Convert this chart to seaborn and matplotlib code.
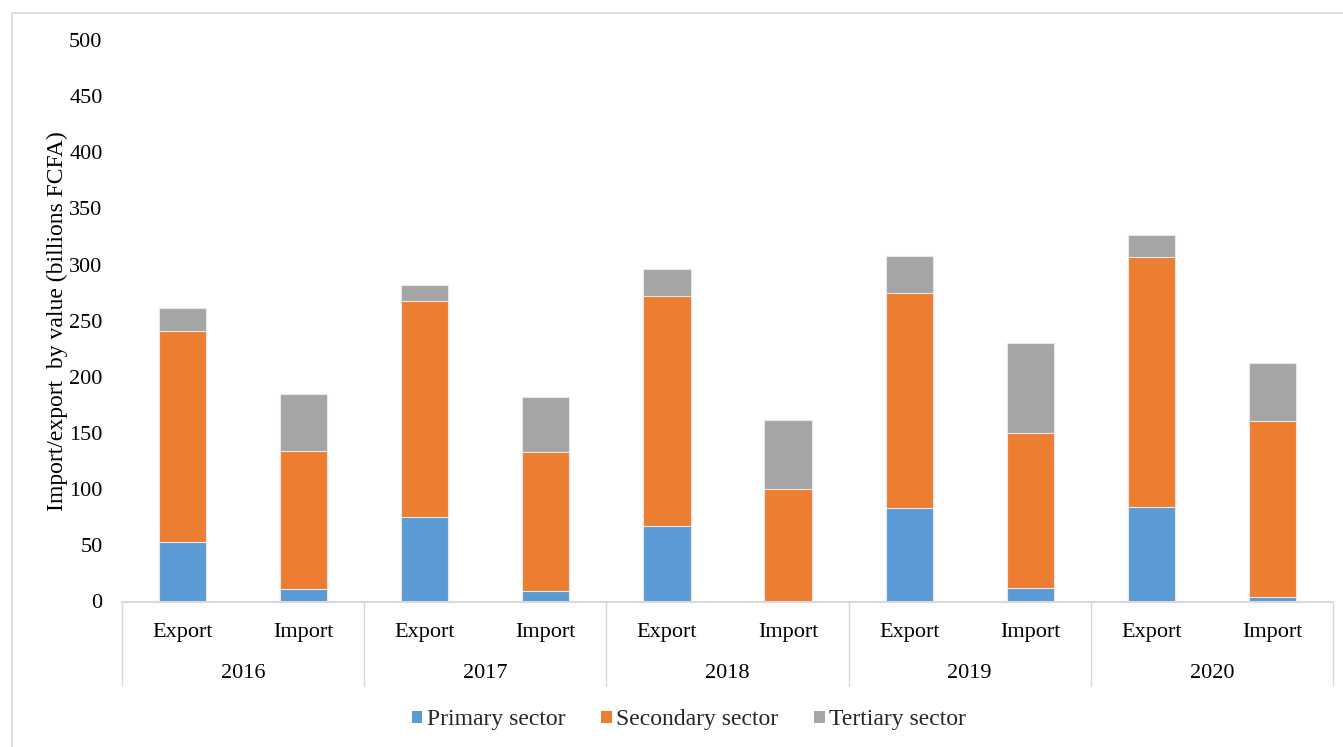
import matplotlib
matplotlib.use("Agg")
import matplotlib.pyplot as plt
from matplotlib.patches import Rectangle, Patch
from matplotlib.lines import Line2D
import seaborn as sns
import pandas as pd
import numpy as np

# Trade values by sector (billions FCFA)
years = ["2016", "2017", "2018", "2019", "2020"]
flows = ["Export", "Import"]
primary = [53, 11, 75, 9, 67, 0, 83, 12, 84, 4]
secondary = [188, 123, 193, 124, 205, 100, 192, 138, 223, 157]
tertiary = [20, 51, 14, 49, 24, 62, 33, 80, 19, 51]
sector_names = ["Primary sector", "Secondary sector", "Tertiary sector"]
sector_colors = ["#5B9BD5", "#ED7D31", "#A5A5A5"]

categories = [f"{y} {f}" for y in years for f in flows]
df = pd.DataFrame({
    "category": categories,
    "primary": primary,
    "secondary": secondary,
    "tertiary": tertiary,
})
df["level1"] = df["primary"]
df["level2"] = df["primary"] + df["secondary"]
df["level3"] = df["level2"] + df["tertiary"]

sns.set_theme(style="white")
plt.rcParams["font.family"] = ["Liberation Serif", "DejaVu Serif"]

W, H = 1343, 747
fig = plt.figure(figsize=(W / 100, H / 100), dpi=100)
ax_left, ax_right, ax_base, ax_top = 122, 1333, 601.5, 40
ax = fig.add_axes([ax_left / W, 1 - ax_base / H,
                   (ax_right - ax_left) / W, (ax_base - ax_top) / H])

bar_w = 0.39
# Stacked bars: draw cumulative totals from the top layer down
for col, color in zip(["level3", "level2", "level1"], sector_colors[::-1]):
    sns.barplot(data=df, x="category", y=col, order=categories, color=color,
                width=bar_w, edgecolor="#E8E8E8", linewidth=0.8,
                saturation=1, ax=ax)

ax.set_xlim(-0.5, len(categories) - 0.5)
ax.set_ylim(0, 500)
ax.set_yticks(np.arange(0, 501, 50))
ax.tick_params(axis="y", labelsize=16, length=0, pad=14, labelcolor="black")
ax.set_xticks([])
ax.set_xlabel("")
ax.set_ylabel("Import/export  by value (billions FCFA)", fontsize=17, color="black")
ax.yaxis.set_label_coords(-0.045, 0.5)
for s in ax.spines.values():
    s.set_visible(False)

# Two-level category axis
line_c = "#D9D9D9"
trans = ax.get_xaxis_transform()
ax.add_line(Line2D([-0.5, len(categories) - 0.5], [0, 0], transform=trans,
                   color=line_c, lw=1.5, clip_on=False))
depth = -(686 - ax_base) / (ax_base - ax_top)
for b in np.arange(-0.5, len(categories), 2):
    ax.add_line(Line2D([b, b], [0, depth], transform=trans, color=line_c,
                       lw=1, clip_on=False))
y_flow = -(632 - ax_base) / (ax_base - ax_top)
y_year = -(673 - ax_base) / (ax_base - ax_top)
for i, cat in enumerate(categories):
    ax.text(i, y_flow, cat.split()[1], transform=trans, ha="center",
            va="center", fontsize=16, color="black")
for j, yr in enumerate(years):
    ax.text(2 * j + 0.5, y_year, yr, transform=trans, ha="center",
            va="center", fontsize=16, color="black")

# Legend
handles = [Patch(facecolor=c, edgecolor="none") for c in sector_colors]
fig.legend(handles, sector_names, loc="center", bbox_to_anchor=(689 / W, 1 - 720 / H),
           ncol=3, frameon=False, fontsize=17, handlelength=0.45, handleheight=0.45,
           handletextpad=0.2, columnspacing=1.5)

# Chart frame
fig.patches.append(Rectangle((12 / W, -0.01), 1.1, 1 - 13 / H + 0.01,
                             transform=fig.transFigure, fill=False,
                             edgecolor=line_c, lw=1.2))

fig.savefig("out.png", dpi=100)
